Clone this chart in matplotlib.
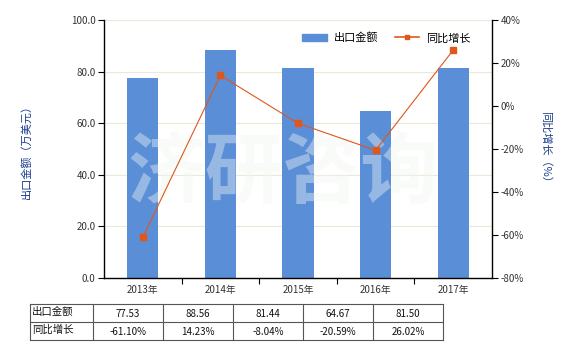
import matplotlib
matplotlib.use("Agg")
import matplotlib.pyplot as plt
from matplotlib.lines import Line2D
from matplotlib.patches import Rectangle

plt.rcParams['font.family'] = ['Noto Sans CJK SC', 'DejaVu Sans']

years = ['2013年', '2014年', '2015年', '2016年', '2017年']
export_amount = [77.53, 88.56, 81.44, 64.67, 81.50]
yoy_growth = [-61.10, 14.23, -8.04, -20.59, 26.02]
left_ticks = [0, 20, 40, 60, 80, 100]
right_ticks = [-80, -60, -40, -20, 0, 20, 40]
row_labels = ['出口金额', '同比增长']

W, H = 580, 350
fig = plt.figure(figsize=(5.8, 3.5), dpi=100)
ax = fig.add_axes([104/W, 1-278/H, (492-104)/W, (278-20)/H])
bar_color = '#5a8fd8'
line_color = '#e0561b'

x = list(range(len(years)))
ax.bar(x, export_amount, width=0.4, color=bar_color, zorder=2)
ax.set_xlim(-0.5, len(years)-0.5)
ax.set_ylim(0, 100)
ax.set_yticks(left_ticks)
ax.set_yticklabels([f'{v:.1f}' for v in left_ticks], fontsize=7, color='#333333')
ax.set_xticks(x)
ax.set_xticklabels(years, fontsize=7, color='#333333')
ax.set_xticks([i+0.5 for i in x[:-1]], minor=True)
ax.tick_params(axis='x', which='major', length=0, pad=5)
ax.tick_params(axis='x', which='minor', length=4, width=0.8)
ax.tick_params(axis='y', length=4, width=0.8, pad=2)
ax.grid(axis='y', color='#ece8d8', linewidth=0.8, zorder=0)
for s in ['top', 'right']:
    ax.spines[s].set_visible(False)
ax.spines['left'].set_linewidth(1.0)
ax.spines['bottom'].set_linewidth(1.0)
ax.set_ylabel('出口金额（万美元）', fontsize=8, color='#1a3c8c', labelpad=28)

ax.text(0.461, 0.40, '济研咨询', transform=ax.transAxes, fontsize=56, color='#f2f6f2',
        alpha=0.4, ha='center', va='center', fontweight='bold', zorder=5)

ax2 = ax.twinx()
ax2.plot(x, yoy_growth, color=line_color, linewidth=0.8, marker='s', markersize=4.5, zorder=3)
ax2.set_ylim(-80, 40)
ax2.set_yticks(right_ticks)
ax2.set_yticklabels([f'{v}%' for v in right_ticks], fontsize=7, color='#333333')
ax2.tick_params(axis='y', length=4, width=0.8, pad=2)
for s in ['top', 'left', 'bottom']:
    ax2.spines[s].set_visible(False)
ax2.spines['right'].set_linewidth(1.0)
ax2.set_ylabel('同比增长（%）', fontsize=8, color='#1a3c8c', rotation=-90, labelpad=20)

handles = [Rectangle((0, 0), 1, 1, color=bar_color),
           Line2D([0], [0], color=line_color, linewidth=1.2, marker='s', markersize=3.5)]
ax2.legend(handles, ['出口金额', '同比增长'], loc='upper right', bbox_to_anchor=(0.97, 0.99),
           ncol=2, frameon=False, fontsize=8, handlelength=2.2, columnspacing=1.5, handletextpad=0.6)

# table
tax = fig.add_axes([0, 0, 1, 1], facecolor='none')
tax.set_xlim(0, W)
tax.set_ylim(H, 0)
tax.axis('off')
x0, x1, colw = 30, 93, 70
y0, ym, y1 = 304, 322, 340
xr = x1 + colw*len(years)
lc = '#555555'
for yy in (y0, ym, y1):
    tax.plot([x0, xr], [yy, yy], color=lc, linewidth=0.8)
for xx in [x0, x1] + [x1 + colw*(i+1) for i in range(len(years))]:
    tax.plot([xx, xx], [y0, y1], color=lc, linewidth=0.8)
rows = [[f'{v:.2f}' for v in export_amount], [f'{v:.2f}%' for v in yoy_growth]]
for r, (lab, vals) in enumerate(zip(row_labels, rows)):
    yc = (y0 + ym)/2 if r == 0 else (ym + y1)/2
    tax.text(x0+2, yc-1, lab, fontsize=7.5, ha='left', va='center', color='#111111')
    for i, v in enumerate(vals):
        tax.text(x1 + colw*i + colw/2, yc+1, v, fontsize=7, ha='center', va='center', color='#111111')

fig.savefig('out.png', dpi=100)
